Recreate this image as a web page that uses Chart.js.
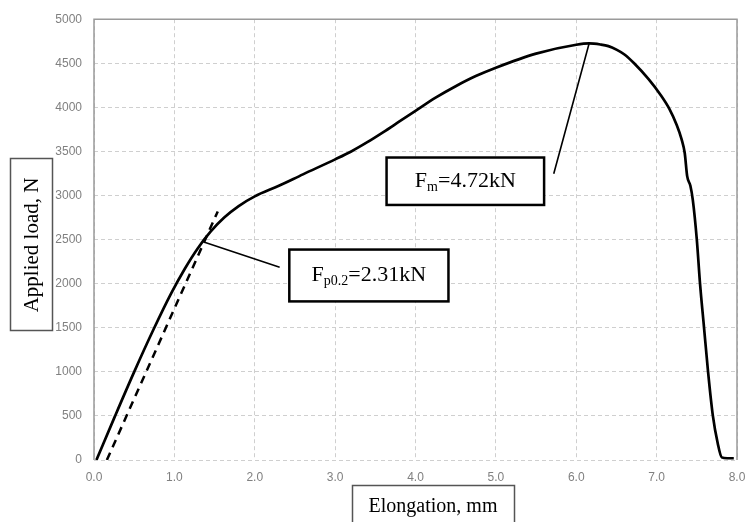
<!DOCTYPE html>
<html>
<head>
<meta charset="utf-8">
<script src="https://cdn.jsdelivr.net/npm/chart.js@4.4.0/dist/chart.umd.min.js"></script>
<style>
  html, body { margin: 0; padding: 0; background: #fff; }
  #wrap { width: 748px; height: 522px; }
</style>
</head>
<body>
<div id="wrap"><canvas id="chart" width="748" height="522"></canvas></div>
<script>
// load-elongation curve (mm, N)
const elongation = [0.03, 0.26, 0.50, 0.74, 0.96, 1.13, 1.29, 1.45, 1.62, 1.80, 2.00, 2.30, 2.60, 3.00, 3.20, 3.40, 3.60, 3.80, 4.00, 4.25, 4.50, 4.75, 5.00, 5.50, 6.00, 6.16, 6.30, 6.40, 6.50, 6.60, 6.72, 6.90, 7.05, 7.16, 7.25, 7.31, 7.35, 7.38, 7.42, 7.45, 7.50, 7.54, 7.59, 7.64, 7.70, 7.76, 7.81, 7.88, 7.96];
const load = [0, 495, 1000, 1480, 1890, 2170, 2400, 2590, 2750, 2880, 2990, 3110, 3240, 3410, 3500, 3605, 3720, 3840, 3960, 4110, 4240, 4355, 4450, 4610, 4710, 4725, 4713, 4695, 4655, 4600, 4500, 4320, 4140, 3980, 3800, 3640, 3480, 3220, 3110, 2950, 2500, 2000, 1500, 1000, 500, 190, 30, 20, 20];

// 0.2% offset line
const offsetX = [0.16, 1.54];
const offsetY = [0, 2820];

// points marked on the curve
const proofPoint = { x: 1.375, y: 2470 };  // Fp0.2
const maxPoint = { x: 6.16, y: 4725 };     // Fm

const xMin = 0, xMax = 8, xStep = 1;
const yMin = 0, yMax = 5000, yStep = 500;

const serif = '"Liberation Serif", "Times New Roman", serif';
const tickFont = { family: '"Liberation Sans", Arial, sans-serif', size: 12 };

function toXY(xs, ys) {
    return xs.map((x, i) => ({ x: x, y: ys[i] }));
}

// draws the frame, the boxed axis titles and the two labels
const decorPlugin = {
    id: 'decor',
    afterDatasetsDraw(chart) {
        const { ctx, chartArea: a, scales: { x, y } } = chart;
        ctx.save();

        // frame (left, top, right)
        ctx.strokeStyle = '#9a9a9a';
        ctx.lineWidth = 1.5;
        ctx.beginPath();
        ctx.moveTo(a.left, a.bottom);
        ctx.lineTo(a.left, a.top);
        ctx.lineTo(a.right, a.top);
        ctx.lineTo(a.right, a.bottom);
        ctx.stroke();

        // leader lines
        ctx.strokeStyle = '#000';
        ctx.lineWidth = 1.6;
        ctx.beginPath();
        ctx.moveTo(x.getPixelForValue(proofPoint.x), y.getPixelForValue(proofPoint.y));
        ctx.lineTo(x.getPixelForValue(2.31), y.getPixelForValue(2187));
        ctx.moveTo(x.getPixelForValue(maxPoint.x), y.getPixelForValue(maxPoint.y));
        ctx.lineTo(x.getPixelForValue(5.72), y.getPixelForValue(3247));
        ctx.stroke();

        labelBox(ctx, x, y, [2.43, 4.41, 2387, 1799], 'F', 'p0.2', '=2.31kN');
        labelBox(ctx, x, y, [3.64, 5.60, 3431, 2893], 'F', 'm', '=4.72kN');

        ctx.restore();
    },
    afterDraw(chart) {
        const { ctx } = chart;
        ctx.save();
        ctx.strokeStyle = '#555';
        ctx.lineWidth = 1.5;
        ctx.fillStyle = '#000';
        ctx.font = '21px ' + serif;
        ctx.textAlign = 'center';
        ctx.textBaseline = 'middle';

        // y title
        ctx.strokeRect(10.5, 158.5, 42, 172);
        ctx.save();
        ctx.translate(31, 245);
        ctx.rotate(-Math.PI / 2);
        ctx.fillText('Applied load, N', 0, 1);
        ctx.restore();

        // x title
        ctx.font = '20px ' + serif;
        ctx.strokeRect(352.5, 485.5, 162, 50);
        ctx.fillText('Elongation, mm', 433, 507);
        ctx.restore();
    }
};

function labelBox(ctx, x, y, box, main, sub, rest) {
    const l = x.getPixelForValue(box[0]);
    const r = x.getPixelForValue(box[1]);
    const t = y.getPixelForValue(box[2]);
    const b = y.getPixelForValue(box[3]);
    ctx.fillStyle = '#fff';
    ctx.fillRect(l, t, r - l, b - t);
    ctx.strokeStyle = '#000';
    ctx.lineWidth = 2.5;
    ctx.strokeRect(l, t, r - l, b - t);

    const bigFont = '22px ' + serif;
    const smallFont = '14px ' + serif;
    ctx.font = bigFont;
    const w1 = ctx.measureText(main).width;
    const w3 = ctx.measureText(rest).width;
    ctx.font = smallFont;
    const w2 = ctx.measureText(sub).width;
    let cx = (l + r) / 2 - (w1 + w2 + w3) / 2;
    const base = (t + b) / 2 + 6;

    ctx.fillStyle = '#000';
    ctx.textAlign = 'left';
    ctx.textBaseline = 'alphabetic';
    ctx.font = bigFont;
    ctx.fillText(main, cx, base);
    cx += w1;
    ctx.font = smallFont;
    ctx.fillText(sub, cx, base + 4);
    cx += w2;
    ctx.font = bigFont;
    ctx.fillText(rest, cx, base);
}

const ctx = document.getElementById('chart').getContext('2d');
new Chart(ctx, {
    type: 'line',
    data: {
        datasets: [{
            label: 'Load',
            data: toXY(elongation, load),
            borderColor: '#000',
            borderWidth: 2.7,
            pointRadius: 0,
            cubicInterpolationMode: 'monotone',
            fill: false
        }, {
            label: 'Offset',
            data: toXY(offsetX, offsetY),
            borderColor: '#000',
            borderWidth: 2.5,
            borderDash: [8, 6],
            pointRadius: 0,
            fill: false
        }]
    },
    options: {
        responsive: false,
        animation: false,
        events: [],
        layout: {
            padding: { left: 0, right: 11, top: 18, bottom: 0 }
        },
        plugins: {
            legend: { display: false },
            tooltip: { enabled: false }
        },
        scales: {
            x: {
                type: 'linear',
                min: xMin,
                max: xMax,
                afterFit: (scale) => {
                    scale.height = 62;
                    scale.paddingLeft = 0;
                    scale.paddingRight = 0;
                },
                ticks: {
                    stepSize: xStep,
                    padding: 10,
                    color: '#808080',
                    font: tickFont,
                    callback: (value) => value.toFixed(1)
                },
                grid: {
                    color: '#cfcfcf',
                    lineWidth: 1,
                    drawTicks: false
                },
                border: { display: false, dash: [4, 3] }
            },
            y: {
                type: 'linear',
                min: yMin,
                max: yMax,
                afterFit: (scale) => { scale.width = 94; },
                ticks: {
                    stepSize: yStep,
                    padding: 12,
                    color: '#808080',
                    font: tickFont,
                    callback: (value) => String(value)
                },
                grid: {
                    color: '#cfcfcf',
                    lineWidth: 1,
                    drawTicks: false
                },
                border: { display: false, dash: [4, 3] }
            }
        }
    },
    plugins: [decorPlugin]
});
</script>
</body>
</html>
